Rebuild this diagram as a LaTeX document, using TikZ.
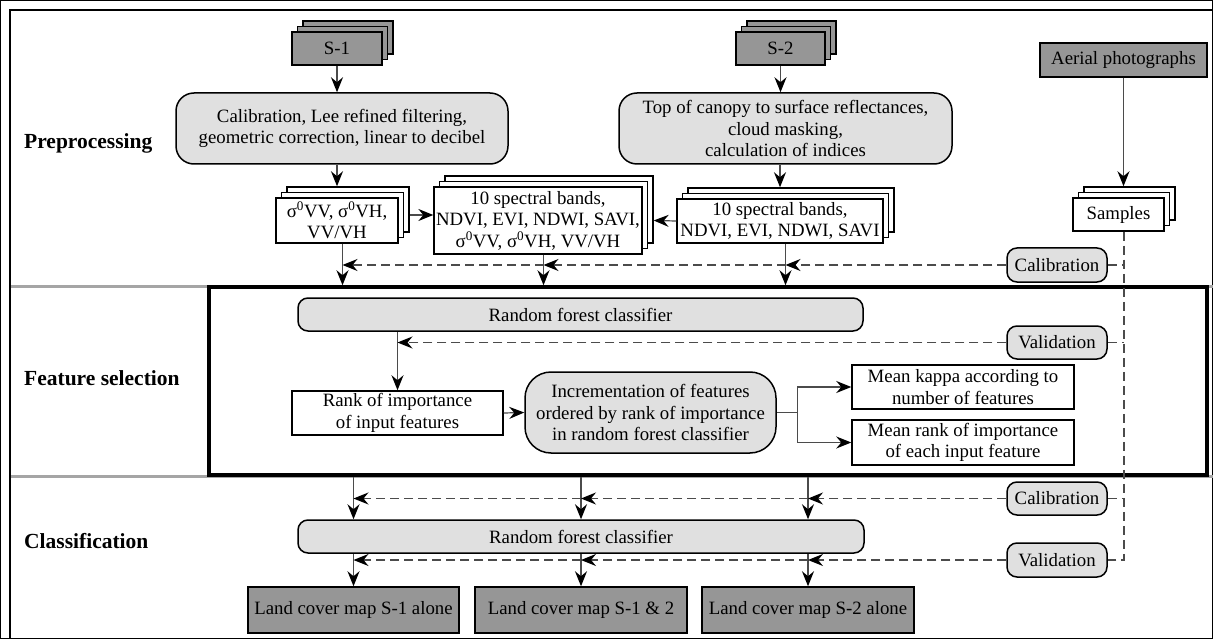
\documentclass[tikz,border=0pt]{standalone}
\usepackage{fontspec}
\setmainfont{Liberation Serif}
\usetikzlibrary{arrows.meta,shadows,calc}
\definecolor{darkfill}{RGB}{150,150,150}
\definecolor{lightfill}{RGB}{224,224,224}
\definecolor{linegray}{RGB}{75,75,75}
\definecolor{sepgray}{RGB}{165,165,165}
\begin{document}
\begin{tikzpicture}[x=1pt,y=-1pt,
  every node/.style={font=\fontsize{18.8}{21.5}\selectfont, align=center, inner sep=2pt},
  base/.style={draw=black, line width=1.5pt},
  dark/.style={base, fill=darkfill},
  light/.style={base, fill=lightfill},
  white/.style={base, fill=white},
  stack/.style={double copy shadow={shadow xshift=5.5pt, shadow yshift=5.5pt, line width=1.5pt, draw=black}},
  sz/.style 2 args={minimum width=#1, minimum height=#2},
  secl/.style={anchor=west, font=\fontsize{21.5}{24}\selectfont\bfseries},
  tip/.style={-{Stealth[length=15pt,width=12pt,inset=5pt,color=black]}},
  line/.style={draw=linegray, line width=1.2pt},
  conn/.style={line, tip},
  dline/.style={draw=linegray, line width=1.2pt, dash pattern=on 9pt off 5pt},
  dconn/.style={dline, tip}]
\useasboundingbox (0,0) rectangle (1213,639);
\clip (0,0) rectangle (1213,639);
\fill[white] (0,0) rectangle (1213,639);

% outer frame and separators
\draw[sepgray, line width=2.5pt] (10,286.5) -- (1230,286.5);
\draw[sepgray, line width=2.5pt] (10,476.5) -- (1230,476.5);
\draw[black, line width=2pt] (1240,10) -- (10,10) -- (10,660);

% section labels
\node[secl] (lpre) at (22,143) {Preprocessing};
\node[secl] (lfs) at (22,378) {Feature selection};
\node[secl] (lcl) at (22,541) {Classification};

% feature selection frame
\node[draw=black, line width=3.5pt, minimum width=998, minimum height=188, inner sep=0pt] (fbox) at (708,381) {};

% preprocessing nodes
\node[dark,stack,sz={90}{33}] (S1) at (337,48.5) {S-1};
\node[dark,stack,sz={89}{33}] (S2) at (780.5,48.5) {S-2};
\node[dark,sz={167}{34}] (aer) at (1123.5,60) {Aerial photographs};
\node[light,rounded corners=18pt,sz={332}{71}] (pre1) at (342,128.5) {Calibration, Lee refined filtering,\\geometric correction, linear to decibel};
\node[light,rounded corners=18pt,sz={333}{71}] (pre2) at (785.5,128.5) {Top of canopy to surface reflectances,\\cloud masking,\\calculation of indices};
\node[white,stack,sz={122}{45}] (sig) at (337,220.5) {σ\textsuperscript{0}VV, σ\textsuperscript{0}VH,\\VV/VH};
\node[white,stack,sz={206}{67}] (comb) at (538,220.5) {10 spectral bands,\\NDVI, EVI, NDWI, SAVI,\\σ\textsuperscript{0}VV, σ\textsuperscript{0}VH, VV/VH};
\node[white,stack,sz={206}{44}] (b2) at (780,221) {10 spectral bands,\\NDVI, EVI, NDWI, SAVI};
\node[white,stack,sz={91}{33}] (samp) at (1118.5,214.5) {Samples};
\node[light,rounded corners=10pt,sz={100}{34}] (cal1) at (1057,265) {Calibration};

% feature selection nodes
\node[light,rounded corners=10pt,sz={565}{33}] (rf1) at (580.5,314.5) {Random forest classifier};
\node[light,rounded corners=10pt,sz={100}{33}] (val1) at (1057,342.5) {Validation};
\node[white,sz={211}{44}] (rank) at (397.5,413) {Rank of importance\\of input features};
\node[light,rounded corners=26pt,sz={251}{81}] (incr) at (650.5,412.5) {Incrementation of features\\ordered by rank of importance\\in random forest classifier};
\node[white,sz={222}{44}] (kappa) at (963,387) {Mean kappa according to\\number of features};
\node[white,sz={222}{45}] (mrank) at (963,442.5) {Mean rank of importance\\of each input feature};

% classification nodes
\node[light,rounded corners=10pt,sz={100}{33}] (cal2) at (1057,498.5) {Calibration};
\node[light,rounded corners=10pt,sz={566}{33}] (rf2) at (581,536.5) {Random forest classifier};
\node[light,rounded corners=10pt,sz={100}{34}] (val2) at (1057,560) {Validation};
\node[dark,sz={211}{46}] (lc1) at (353.5,610) {Land cover map S-1 alone};
\node[dark,sz={212}{46}] (lc2) at (581,610) {Land cover map S-1 \& 2};
\node[dark,sz={212}{46}] (lc3) at (808,610) {Land cover map S-2 alone};

% helper coordinates
\coordinate (sigout) at ($(sig.south)+(5.5,0)$);
\coordinate (combout) at ($(comb.south)+(5.5,0)$);
\coordinate (b2out) at ($(b2.south)+(5.5,0)$);
\coordinate (sampout) at ($(samp.south)+(5.5,0)$);
\coordinate (sigR) at ($(sig.east)+(11,-5.5)$);
\coordinate (br) at ($(incr.east)+(21,0)$);

% preprocessing connectors
\draw[conn] (S1.south) -- (S1.south |- pre1.north);
\draw[conn] (S2.south) -- (S2.south |- pre2.north);
\draw[conn] (sig.north |- pre1.south) -- ($(sig.north)+(0,-11)$);
\draw[conn] (b2.north |- pre2.south) -- ($(b2.north)+(0,-11)$);
\draw[conn] (aer.south) -- ($(aer.south |- samp.north)+(0,-11)$);
\draw[conn] (sigR) -- (sigR -| comb.west);
\draw[conn] (b2.west) -- ($(comb.east)+(11,0)$);
\draw[conn] (sigout) -- (sigout |- fbox.north);
\draw[conn] (combout) -- (combout |- fbox.north);
\draw[conn] (b2out) -- (b2out |- fbox.north);

% calibration / validation dashed lines
\draw[dconn] (cal1.west) -- (b2out |- cal1.west);
\draw[dconn] (b2out |- cal1.west) -- (combout |- cal1.west);
\draw[dconn] (combout |- cal1.west) -- (sigout |- cal1.west);
\draw[dline] (sampout) |- (val2.east);
\draw[dline] (cal1.east) -- (sampout |- cal1.east);
\draw[dline] (val1.east) -- (sampout |- val1.east);
\draw[dline] (cal2.east) -- (sampout |- cal2.east);

% feature selection connectors
\draw[conn] (rank.north |- rf1.south) -- (rank.north);
\draw[dconn] (val1.west) -- (rank.north |- val1.west);
\draw[conn] (rank.east) -- (incr.west);
\draw[line] (incr.east) -- (br);
\draw[conn] (br) |- (kappa.west);
\draw[conn] (br) |- (mrank.west);

% classification connectors
\foreach \n in {lc1,lc2,lc3}{
  \draw[conn] (\n.north |- fbox.south) -- (\n.north |- rf2.north);
  \draw[conn] (\n.north |- rf2.south) -- (\n.north);
}
\draw[dconn] (cal2.west) -- (lc3.north |- cal2.west);
\draw[dconn] (lc3.north |- cal2.west) -- (lc2.north |- cal2.west);
\draw[dconn] (lc2.north |- cal2.west) -- (lc1.north |- cal2.west);
\draw[dconn] (val2.west) -- (lc3.north |- val2.west);
\draw[dconn] (lc3.north |- val2.west) -- (lc2.north |- val2.west);
\draw[dconn] (lc2.north |- val2.west) -- (lc1.north |- val2.west);
\end{tikzpicture}
\end{document}
